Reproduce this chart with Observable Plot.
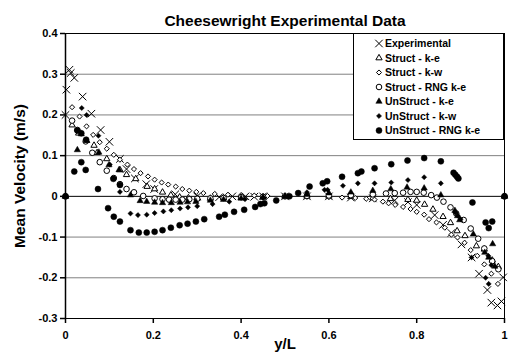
<!DOCTYPE html>
<html><head><meta charset="utf-8">
<script src="https://cdn.jsdelivr.net/npm/d3@7"></script>
<script src="https://cdn.jsdelivr.net/npm/@observablehq/plot@0.6"></script>
<style>
body{margin:0;background:#fff;font-family:Arial,"Liberation Sans",sans-serif;}
#wrap{position:relative;width:511px;height:355px;}
#legend{position:absolute;left:353px;top:33px;width:151px;height:107px;border:1px solid #000;background:#fff;box-sizing:border-box;}
</style></head><body><div id="wrap"><div id="legend"></div></div>
<script>
const seriesNames = ["Experimental","Struct - k-e","Struct - k-w","Struct - RNG k-e","UnStruct - k-e","UnStruct - k-w","UnStruct - RNG k-e"];
const yTicks = [-0.3,-0.2,-0.1,0,0.1,0.2,0.3,0.4];
const xTicks = [0,0.2,0.4,0.6,0.8,1];

const expX = [0,0.002,0.009,0.012,0.02,0.039,0.059,0.08,0.1,0.124,0.139,0.158,0.184,0.202,0.25,0.3,0.35,0.38,0.41,0.43,0.45,0.5,0.55,0.6,0.65,0.7,0.75,0.78,0.8,0.841,0.86,0.879,0.902,0.925,0.942,0.961,0.97,0.984,0.993,0.997];
const expY = [0.2,0.262,0.311,0.303,0.291,0.245,0.203,0.163,0.134,0.092,0.067,0.044,0.03,0.018,0.005,0.0,-0.002,0.0,0.0,-0.001,0.0,0.0,0.0,0.0,-0.003,-0.005,-0.01,-0.014,-0.021,-0.046,-0.07,-0.09,-0.118,-0.15,-0.19,-0.23,-0.261,-0.268,-0.258,-0.199];

const skeX = [0,0.015,0.03,0.048,0.065,0.072,0.094,0.124,0.139,0.16,0.186,0.203,0.221,0.24,0.26,0.28,0.3,0.33,0.36,0.4,0.45,0.5,0.55,0.6,0.65,0.7,0.74,0.78,0.8,0.818,0.837,0.86,0.877,0.892,0.91,0.936,0.954,0.972,0.986,1];
const skeY = [0,0.175,0.155,0.137,0.125,0.107,0.092,0.065,0.053,0.043,0.024,0.018,0.01,0.003,-0.002,-0.004,-0.005,-0.005,-0.004,-0.003,-0.002,0,0,0,-0.001,-0.004,-0.006,-0.008,-0.01,-0.02,-0.032,-0.05,-0.065,-0.085,-0.097,-0.122,-0.13,-0.157,-0.173,0];

const skwX = [0,0.015,0.032,0.048,0.063,0.078,0.094,0.11,0.124,0.141,0.156,0.171,0.188,0.203,0.219,0.234,0.251,0.266,0.282,0.298,0.314,0.34,0.37,0.4,0.43,0.46,0.5,0.55,0.6,0.63,0.66,0.685,0.704,0.723,0.736,0.751,0.769,0.786,0.8,0.817,0.828,0.845,0.864,0.879,0.893,0.909,0.923,0.938,0.954,0.97,0.985,1];
const skwY = [0,0.219,0.196,0.172,0.151,0.133,0.117,0.102,0.09,0.078,0.067,0.057,0.049,0.041,0.034,0.029,0.024,0.018,0.014,0.011,0.008,0.006,0.004,0.003,0.002,0.001,0,-0.001,-0.002,-0.003,-0.004,-0.006,-0.008,-0.013,-0.017,-0.021,-0.026,-0.031,-0.038,-0.045,-0.056,-0.064,-0.077,-0.094,-0.101,-0.114,-0.132,-0.146,-0.167,-0.19,-0.215,0];

const srngX = [0,0.015,0.027,0.046,0.061,0.078,0.094,0.11,0.124,0.139,0.156,0.177,0.203,0.221,0.236,0.251,0.266,0.282,0.3,0.33,0.36,0.4,0.45,0.5,0.55,0.6,0.65,0.7,0.73,0.75,0.769,0.786,0.8,0.816,0.833,0.846,0.861,0.877,0.89,0.907,0.923,0.94,0.954,0.972,0.986,1];
const srngY = [0,0.186,0.163,0.135,0.107,0.084,0.063,0.045,0.03,0.018,0.01,0.001,-0.005,-0.007,-0.008,-0.008,-0.008,-0.007,-0.006,-0.005,-0.004,-0.002,-0.001,0,0.001,0.002,0.003,0.005,0.007,0.008,0.009,0.011,0.011,0.009,0.003,-0.003,-0.013,-0.027,-0.042,-0.058,-0.079,-0.104,-0.128,-0.159,-0.179,0];

const ukeX = [0,0.027,0.036,0.048,0.076,0.099,0.122,0.148,0.17,0.185,0.203,0.221,0.241,0.261,0.278,0.297,0.33,0.36,0.4,0.45,0.5,0.55,0.6,0.65,0.7,0.741,0.778,0.817,0.855,0.887,0.893,0.898,0.929,0.955,0.964,0.973,0.978,1];
const ukeY = [0,0.114,0.153,0.137,0.108,0.077,0.065,0.003,-0.011,-0.013,-0.015,-0.016,-0.016,-0.015,-0.014,-0.013,-0.01,-0.008,-0.005,-0.002,0,0.004,0.008,0.01,0.014,0.018,0.022,0.02,0.003,-0.035,-0.048,-0.058,-0.093,-0.138,-0.15,-0.117,-0.172,0];

const ukwX = [0,0.037,0.048,0.075,0.101,0.124,0.148,0.165,0.185,0.203,0.223,0.241,0.261,0.279,0.3,0.335,0.373,0.409,0.45,0.5,0.55,0.59,0.597,0.632,0.666,0.704,0.742,0.78,0.817,0.855,0.888,0.894,0.9,0.925,0.957,0.963,0.964,0.97,1];
const ukwY = [0,0.217,0.2,0.149,0.078,0.011,-0.042,-0.046,-0.045,-0.041,-0.037,-0.034,-0.03,-0.027,-0.024,-0.019,-0.013,-0.007,-0.003,0,0.01,0.016,0.016,0.026,0.032,0.032,0.034,0.04,0.047,0.032,-0.04,-0.048,-0.056,-0.15,-0.2,-0.146,-0.215,-0.169,0];

const urngX = [0,0.02,0.027,0.036,0.036,0.047,0.046,0.074,0.097,0.109,0.11,0.124,0.124,0.148,0.167,0.185,0.203,0.221,0.24,0.26,0.278,0.297,0.316,0.35,0.363,0.384,0.407,0.432,0.444,0.453,0.48,0.51,0.53,0.556,0.586,0.596,0.63,0.666,0.674,0.704,0.742,0.779,0.817,0.855,0.884,0.888,0.892,0.895,0.927,0.957,0.964,0.972,1];
const urngY = [0,0.061,0.162,0.155,0.084,0.139,0.065,0.018,-0.029,0.043,-0.05,0.028,-0.062,-0.083,-0.089,-0.089,-0.087,-0.083,-0.077,-0.071,-0.067,-0.062,-0.056,-0.05,-0.045,-0.038,-0.033,-0.026,-0.019,-0.017,-0.01,0,0.008,0.024,0.032,0.037,0.048,0.057,0.061,0.069,0.079,0.088,0.094,0.086,0.058,0.053,0.048,0.044,-0.015,-0.064,-0.078,-0.062,0];

const rows = (xs, ys) => xs.map((x, i) => ({x, y: ys[i]}));

const styles = [
  {symbol: "times", r: 3.5, fill: "none", stroke: "#000", strokeWidth: 1},
  {symbol: "triangle2", r: 3, fill: "#fff", stroke: "#000", strokeWidth: 1},
  {symbol: "diamond2", r: 2.3, fill: "#fff", stroke: "#000", strokeWidth: 1},
  {symbol: "circle", r: 2.8, fill: "#fff", stroke: "#000", strokeWidth: 1},
  {symbol: "triangle2", r: 3, fill: "#000", stroke: "#000", strokeWidth: 0.5},
  {symbol: "diamond2", r: 2.3, fill: "#000", stroke: "#000", strokeWidth: 0.5},
  {symbol: "circle", r: 3, fill: "#000", stroke: "#000", strokeWidth: 0.5}
];
const data = [[expX,expY],[skeX,skeY],[skwX,skwY],[srngX,srngY],[ukeX,ukeY],[ukwX,ukwY],[urngX,urngY]].map(([a,b]) => rows(a,b));

const font = "Arial, 'Liberation Sans', sans-serif";
const chart = Plot.plot({
  width: 511, height: 355,
  marginTop: 33, marginBottom: 37, marginLeft: 65, marginRight: 7,
  style: {fontFamily: font, fontSize: "11px", fontWeight: "bold", color: "#000", background: "#fff", overflow: "visible"},
  x: {domain: [0, 1]},
  y: {domain: [-0.3, 0.4]},
  marks: [
    Plot.ruleY(yTicks.filter(d => d !== 0), {stroke: "#808080", strokeWidth: 1}),
    Plot.ruleY([0], {stroke: "#000", strokeWidth: 1}),
    Plot.frame({stroke: "#000", strokeWidth: 1}),
    Plot.ruleX([0], {stroke: "#000", strokeWidth: 1.5}),
    Plot.axisY({ticks: yTicks, tickFormat: d => String(d), tickSize: 5, tickPadding: 3, label: null, strokeWidth: 1.5}),
    Plot.axisX({ticks: xTicks, tickFormat: d => String(d), tickSize: 5, tickPadding: 8, label: null, strokeWidth: 1.5}),
    ...data.map((d, i) => Plot.dot(d, {x: "x", y: "y", ...styles[i]})),
    Plot.text(["Cheesewright Experimental Data"], {frameAnchor: "top", dy: -19, fontSize: 15.5, fontWeight: "bold"}),
    Plot.text(["y/L"], {frameAnchor: "bottom", dy: 30, fontSize: 15, fontWeight: "bold"}),
    Plot.text(["Mean Velocity (m/s)"], {frameAnchor: "left", dx: -45, rotate: -90, textAnchor: "middle", fontSize: 15.5, fontWeight: "bold"})
  ]
});
document.getElementById("wrap").insertBefore(chart, document.getElementById("legend"));

// legend
const legend = d3.select("#legend").append("svg").attr("width", 149).attr("height", 105)
  .style("font-family", font).style("font-size", "10.5px").style("font-weight", "bold");
const symMap = {times: d3.symbolTimes, triangle2: d3.symbolTriangle2, diamond2: d3.symbolDiamond2, circle: d3.symbolCircle};
seriesNames.forEach((name, i) => {
  const s = styles[i];
  const cy = 9.5 + i * 14.5;
  legend.append("path")
    .attr("d", d3.symbol(symMap[s.symbol], Math.PI * s.r * s.r)())
    .attr("transform", `translate(25,${cy})`)
    .attr("fill", s.fill).attr("stroke", s.stroke).attr("stroke-width", s.strokeWidth);
  legend.append("text").attr("x", 31).attr("y", cy).attr("dy", "0.35em").text(name);
});
</script></body></html>
